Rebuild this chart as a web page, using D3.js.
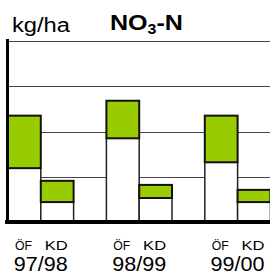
<!DOCTYPE html>
<html>
<head>
<meta charset="utf-8">
<script src="https://cdn.jsdelivr.net/npm/d3@7"></script>
<style>
  body { margin: 0; background: #fff; }
  text { font-family: "Liberation Sans", Arial, sans-serif; fill: #000; }
</style>
</head>
<body>
<svg></svg>
<script>
var WIDTH = 270;
var HEIGHT = 274;

//seasons and farming systems
var years = ["97/98", "98/99", "99/00"];
var systems = ["ÖF", "KD"];

//NO3-N, lower (white) and upper (green) part of each bar, order: year then system
var lowerPart = [11.9, 4.4, 18.5, 5.3, 13.2, 4.4];
var upperPart = [11.6, 4.7, 8.3, 2.9, 10.3, 2.7];

//gridline values
var gridTicks = [10, 20, 30, 40];

var svg = d3.select("svg")
    .attr("width", WIDTH)
    .attr("height", HEIGHT);

var y = d3.scaleLinear().domain([0, 40]).range([222, 41]);

var x0 = d3.scaleBand().domain(years).range([8, 8 + 3 * 98.4]);
var x1 = d3.scaleBand().domain(systems).range([0, 65.6]);

//build bar records from the arrays
var bars = [];
years.forEach(function(yr, i) {
    systems.forEach(function(s, j) {
        var k = i * systems.length + j;
        bars.push({year: yr, system: s, low: lowerPart[k], high: upperPart[k]});
    });
});

//gridlines
svg.append("g")
    .selectAll("line")
    .data(gridTicks)
    .enter()
    .append("line")
    .attr("x1", 9)
    .attr("x2", WIDTH)
    .attr("y1", function(d) { return Math.round(y(d)) + 0.5; })
    .attr("y2", function(d) { return Math.round(y(d)) + 0.5; })
    .attr("stroke", "#444")
    .attr("stroke-width", 1);

var barG = svg.append("g")
    .selectAll("g")
    .data(bars)
    .enter()
    .append("g")
    .attr("transform", function(d) { return "translate(" + (x0(d.year) + x1(d.system)) + ",0)"; });

//white lower part
barG.append("rect")
    .attr("x", 0)
    .attr("width", x1.bandwidth())
    .attr("y", function(d) { return y(d.low); })
    .attr("height", function(d) { return y(0) - y(d.low); })
    .attr("fill", "#fff")
    .attr("stroke", "#222")
    .attr("stroke-width", 1.5);

//green upper part
barG.append("rect")
    .attr("x", 0)
    .attr("width", x1.bandwidth())
    .attr("y", function(d) { return y(d.low + d.high); })
    .attr("height", function(d) { return y(d.low) - y(d.low + d.high); })
    .attr("fill", "#99cc00")
    .attr("stroke", "#111")
    .attr("stroke-width", 2);

//axes: thick left line and baseline
svg.append("line")
    .attr("x1", 7.5).attr("x2", 7.5)
    .attr("y1", 39).attr("y2", 224)
    .attr("stroke", "#000").attr("stroke-width", 3);

svg.append("line")
    .attr("x1", 5).attr("x2", WIDTH)
    .attr("y1", y(0)).attr("y2", y(0))
    .attr("stroke", "#000").attr("stroke-width", 4);

//system labels
svg.append("g")
    .selectAll("text")
    .data(bars)
    .enter()
    .append("text")
    .attr("x", function(d) { return x0(d.year) + x1(d.system) + x1.bandwidth() / 2 - 1; })
    .attr("y", 250)
    .attr("text-anchor", "middle")
    .attr("font-size", 13)
    .attr("textLength", function(d) { return d.system === "KD" ? 23 : 17; })
    .attr("lengthAdjust", "spacingAndGlyphs")
    .text(function(d) { return d.system; });

//year labels
svg.append("g")
    .selectAll("text")
    .data(years)
    .enter()
    .append("text")
    .attr("x", function(d) { return x0(d) + x1.range()[1] / 2; })
    .attr("y", 270.5)
    .attr("text-anchor", "middle")
    .attr("font-size", 20)
    .attr("textLength", 54)
    .attr("lengthAdjust", "spacingAndGlyphs")
    .text(function(d) { return d; });

//unit and title
svg.append("text")
    .attr("x", 12)
    .attr("y", 32)
    .attr("font-size", 20)
    .attr("textLength", 58)
    .attr("lengthAdjust", "spacingAndGlyphs")
    .text("kg/ha");

var title = svg.append("text")
    .attr("x", 110)
    .attr("y", 30)
    .attr("font-size", 22)
    .attr("font-weight", "bold")
    .attr("textLength", 73)
    .attr("lengthAdjust", "spacingAndGlyphs");
title.append("tspan").text("NO");
title.append("tspan").attr("font-size", 14).attr("dy", 4).text("3");
title.append("tspan").attr("dy", -4).text("-N");
</script>
</body>
</html>
